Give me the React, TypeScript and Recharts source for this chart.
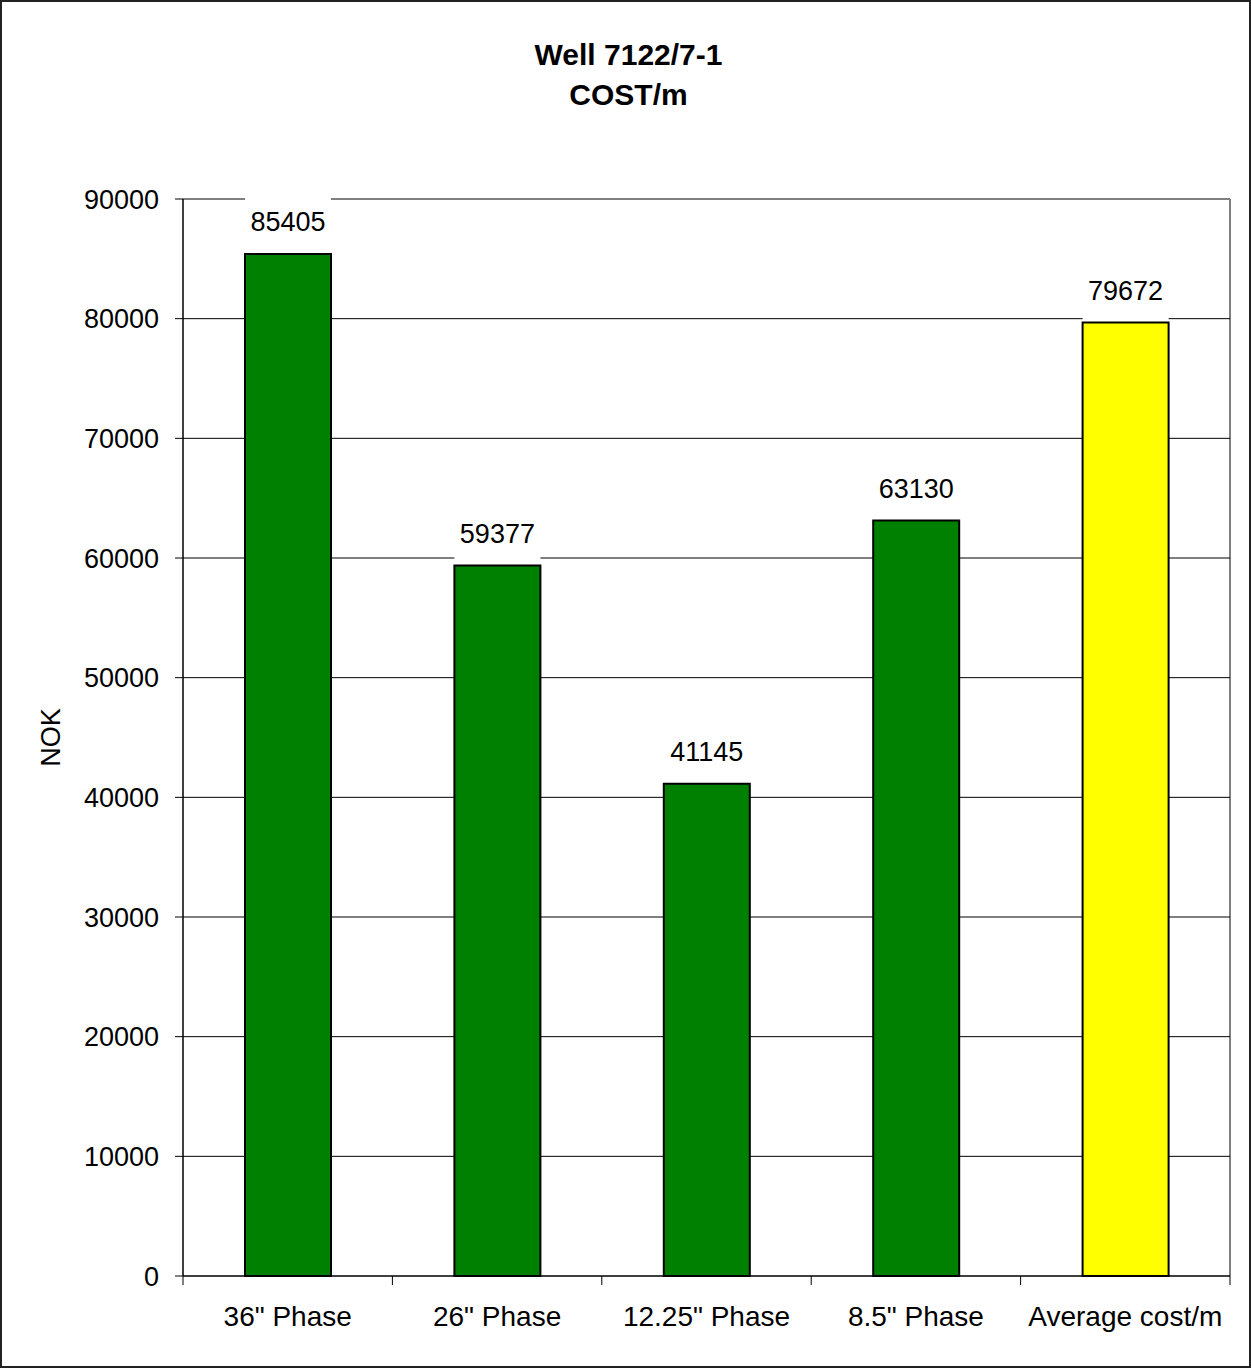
import { BarChart, Bar, XAxis, YAxis, CartesianGrid, Cell, LabelList } from "recharts"

const phases = ['36" Phase', '26" Phase', '12.25" Phase', '8.5" Phase', "Average cost/m"]
const costPerMetre = [85405, 59377, 41145, 63130, 79672]
const barColors = ["#008000", "#008000", "#008000", "#008000", "#FFFF00"]
const yTicks = [0, 10000, 20000, 30000, 40000, 50000, 60000, 70000, 80000, 90000]
const innerGridValues = [10000, 20000, 30000, 40000, 50000, 60000, 70000, 80000]

const data = phases.map((phase, i) => ({ phase, cost: costPerMetre[i] }))

const FONT = '"Liberation Sans", Arial, Helvetica, sans-serif'
const X_TICK_SIZE = 9
const X_TICK_MARGIN = 21

// category labels centred in the band, tick marks on the band edges
const PhaseTick = (props: any) => {
  const { x, y, payload, index } = props
  const half = payload?.offset ?? 0
  const axisY = y - X_TICK_SIZE - X_TICK_MARGIN
  return (
    <g>
      <line x1={x - half} x2={x - half} y1={axisY} y2={axisY + X_TICK_SIZE} stroke="#000" />
      {index === phases.length - 1 && (
        <line x1={x + half} x2={x + half} y1={axisY} y2={axisY + X_TICK_SIZE} stroke="#000" />
      )}
      <text x={x} y={y} dy="0.71em" textAnchor="middle" fill="#000" fontSize={28} fontFamily={FONT}>
        {payload.value}
      </text>
    </g>
  )
}

// value above each bar on a white box that hides the grid behind it
const ValueLabel = (props: any) => {
  const { x, y, width, value } = props
  return (
    <g>
      <rect x={x} y={y - 58} width={width} height={56} fill="#fff" />
      <text
        x={x + width / 2}
        y={y - 32}
        dy="0.35em"
        textAnchor="middle"
        fill="#000"
        fontSize={27}
        fontFamily={FONT}
      >
        {value}
      </text>
    </g>
  )
}

const NokLabel = (props: any) => {
  const { viewBox } = props
  const cx = viewBox.x - 32
  const cy = viewBox.y + viewBox.height / 2
  return (
    <text
      x={cx}
      y={cy}
      dy="0.35em"
      textAnchor="middle"
      transform={`rotate(-90, ${cx}, ${cy})`}
      fill="#000"
      fontSize={27}
      fontFamily={FONT}
    >
      NOK
    </text>
  )
}

export default function App() {
  return (
    <div style={{ position: "absolute", left: 0, top: 0, width: 1251, height: 1368, background: "#fff" }}>
      <div
        style={{
          position: "absolute",
          left: 3,
          top: 35,
          width: 1251,
          textAlign: "center",
          fontFamily: FONT,
          fontWeight: "bold",
          fontSize: 30,
          lineHeight: "40px",
          color: "#000",
        }}
      >
        <div>Well 7122/7-1</div>
        <div>COST/m</div>
      </div>
      <BarChart
        width={1251}
        height={1368}
        data={data}
        margin={{ top: 199, right: 21, bottom: 32, left: 83 }}
        style={{ position: "absolute", left: 0, top: 0 }}
      >
        <CartesianGrid
          stroke="#808080"
          strokeWidth={2}
          horizontalValues={[90000]}
          verticalCoordinatesGenerator={({ offset }: any) => [offset.left + offset.width]}
        />
        <CartesianGrid stroke="#000" vertical={false} horizontalValues={innerGridValues} />
        <XAxis
          dataKey="phase"
          height={60}
          interval={0}
          axisLine={{ stroke: "#000", strokeWidth: 1.5 }}
          tickLine={false}
          tickSize={X_TICK_SIZE}
          tickMargin={X_TICK_MARGIN}
          tick={<PhaseTick />}
        />
        <YAxis
          width={100}
          domain={[0, 90000]}
          ticks={yTicks}
          interval={0}
          axisLine={{ stroke: "#000", strokeWidth: 1.5 }}
          tickLine={{ stroke: "#000" }}
          tickSize={8}
          tickMargin={16}
          tick={{ fill: "#000", fontSize: 27, fontFamily: FONT }}
          label={<NokLabel />}
        />
        <Bar dataKey="cost" barSize={86} stroke="#000" strokeWidth={2} isAnimationActive={false}>
          {data.map((entry, i) => (
            <Cell key={entry.phase} fill={barColors[i]} />
          ))}
          <LabelList dataKey="cost" content={<ValueLabel />} />
        </Bar>
      </BarChart>
      <div
        style={{
          position: "absolute",
          left: 0,
          top: 0,
          width: 1251,
          height: 1368,
          boxSizing: "border-box",
          border: "2px solid #222",
          pointerEvents: "none",
        }}
      />
    </div>
  )
}
